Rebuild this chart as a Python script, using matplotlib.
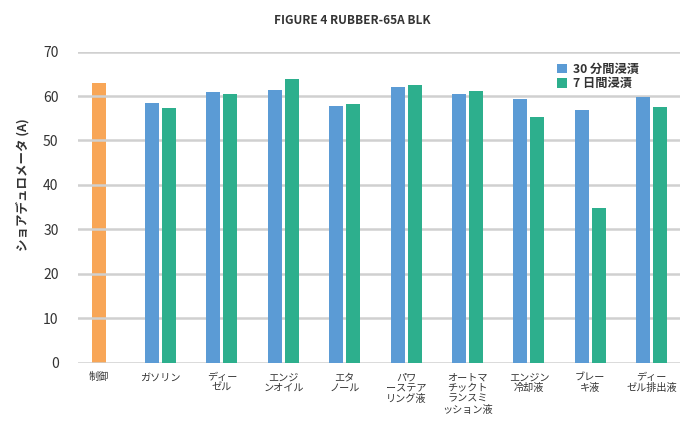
import numpy as np
import matplotlib
matplotlib.use("Agg")
import matplotlib.pyplot as plt

plt.rcParams['font.family'] = ['Noto Sans CJK JP', 'DejaVu Sans']

# --- dane ---
kategorie = ["制御", "ガソリン", "ディー\nゼル", "エンジ\nンオイル", "エタ\nノール",
             "パワ\nーステア\nリング液", "オートマ\nチックト\nランスミ\nッション液",
             "エンジン\n冷却液", "ブレー\nキ液", "ディー\nゼル排出液"]
kontrola = 62.9
seria_30min = [58.5, 61.0, 61.4, 57.8, 62.0, 60.5, 59.4, 56.9, 59.9]
seria_7dni = [57.4, 60.5, 63.9, 58.3, 62.6, 61.2, 55.4, 34.7, 57.6]
nazwy_serii = ["30 分間浸漬", "7 日間浸漬"]

niebieski = "#5B9BD5"
zielony = "#2DAF8D"
pomaranczowy = "#F89D45"

# --- wykres ---
fig = plt.figure(figsize=(6.94, 4.22), dpi=100)
W, H = 694, 422
ax = fig.add_axes([78 / W, 1 - 362.5 / H, 602 / W, (362.5 - 51.7) / H])

x = np.arange(len(kategorie))
szer = 0.228
przes = 0.138

ax.bar(x[0], kontrola, width=szer, color=pomaranczowy, alpha=0.9, zorder=2)
ax.bar(x[1:] - przes, seria_30min, width=szer, color=niebieski, zorder=3, label=nazwy_serii[0])
ax.bar(x[1:] + przes, seria_7dni, width=szer, color=zielony, zorder=3, label=nazwy_serii[1])

ax.set_xlim(-0.344, 9.46)
ax.set_ylim(0, 70)
ax.set_yticks(range(0, 71, 10))
ax.yaxis.grid(True, color="#D0D0D0", linewidth=1.8, zorder=1)
ax.set_axisbelow(False)
ax.tick_params(axis="y", length=0, labelsize=10, pad=14, colors="#333333")
ax.set_xticks(x)
ax.set_xticklabels(kategorie, fontsize=7.3, linespacing=1.1, color="#333333")
ax.tick_params(axis="x", length=0, pad=7)
for s in ["top", "right", "left", "bottom"]:
    ax.spines[s].set_visible(False)

fig.text(352 / W, 1 - 20 / H, "FIGURE 4 RUBBER-65A BLK", ha="center", va="center",
         fontsize=8.5, fontweight="bold", color="#333333")
fig.text(23 / W, 1 - 185 / H, "ショアデュロメータ (A)", ha="center", va="center",
         rotation=90, fontsize=9, fontweight="bold", color="#333333")

leg = ax.legend(loc="upper left", bbox_to_anchor=((552 - 78) / 602, 1 - 6 / 311),
                frameon=False, fontsize=8.8, handlelength=0.8, handleheight=0.8,
                handletextpad=0.5, labelspacing=0.15, borderaxespad=0)
for t in leg.get_texts():
    t.set_fontweight("bold")
    t.set_color("#333333")

fig.savefig("out.png", dpi=100)
